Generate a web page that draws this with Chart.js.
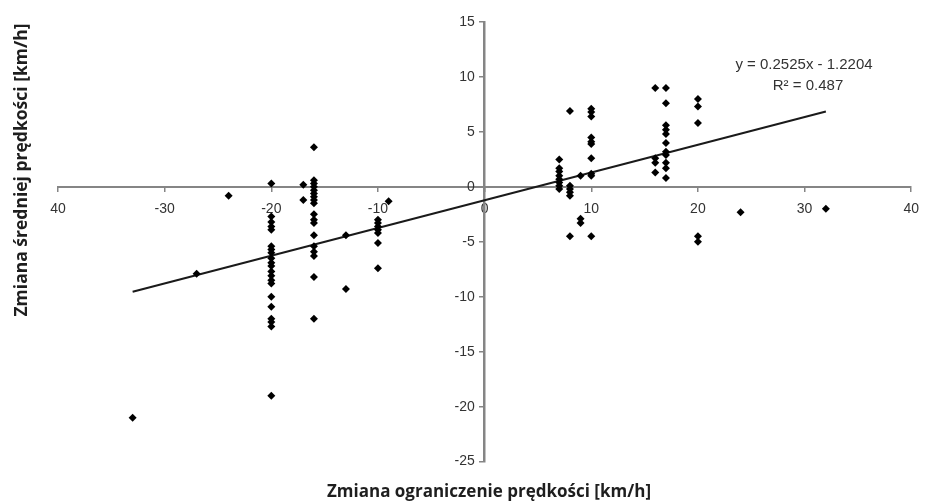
<!DOCTYPE html>
<html>
<head>
<meta charset="utf-8">
<script src="https://cdn.jsdelivr.net/npm/chart.js@4/dist/chart.umd.min.js"></script>
<style>
  html, body { margin: 0; padding: 0; background: #fff; }
  #wrap { width: 929px; height: 503px; }
</style>
</head>
<body>
<div id="wrap"><canvas id="speedChart" width="929" height="503"></canvas></div>
<script>
// ---- data ----
// change of speed limit (x) and the changes of mean speed measured for it (y)
const limitChanges = [-33, -27, -24, -20, -17, -16, -13, -10, -9, 7, 8, 9, 10, 16, 17, 20, 24, 32];
const speedChanges = [
    [-21.0],
    [-7.9],
    [-0.8],
    [0.3, -2.7, -3.2, -3.6, -3.9, -5.4, -5.7, -6.0, -6.5, -6.9, -7.2, -7.7, -8.1, -8.5, -8.8, -10.0, -10.9, -12.0, -12.3, -12.7, -19.0],
    [0.2, -1.2],
    [3.6, 0.6, 0.3, 0.0, -0.3, -0.6, -0.9, -1.2, -1.5, -2.5, -3.0, -3.3, -4.4, -5.4, -5.9, -6.3, -8.2, -12.0],
    [-4.4, -9.3],
    [-3.0, -3.3, -3.6, -3.9, -4.2, -5.1, -7.4],
    [-1.3],
    [2.5, 1.7, 1.4, 1.0, 0.7, 0.4, 0.1, -0.2],
    [6.9, 0.1, -0.2, -0.5, -0.8, -4.5],
    [1.0, -2.9, -3.3],
    [7.1, 6.8, 6.4, 4.5, 4.1, 3.9, 2.6, 1.2, 1.0, -4.5],
    [9.0, 2.6, 2.2, 1.3],
    [9.0, 7.6, 5.6, 5.2, 4.8, 4.0, 3.2, 2.9, 2.2, 1.7, 0.8],
    [8.0, 7.3, 5.8, -4.5, -5.0],
    [-2.3],
    [-2.0]
];

// linear trend line ends
const trendX = [-33, 32];
const trendY = [-9.55, 6.86];
const trendLabel = ['y = 0.2525x - 1.2204', 'R\u00B2 = 0.487'];

// axis ticks
const xTickValues = [-40, -30, -20, -10, 0, 10, 20, 30, 40];
const xTickLabels = ['40', '-30', '-20', '-10', '0', '10', '20', '30', '40'];
const yTickValues = [-25, -20, -15, -10, -5, 0, 5, 10, 15];
const yTickLabels = ['-25', '-20', '-15', '-10', '-5', '0', '5', '10', '15'];

const xTitle = 'Zmiana ograniczenie prędkości [km/h]';
const yTitle = 'Zmiana średniej prędkości [km/h]';

// build the point list for the scatter dataset
const points = [];
limitChanges.forEach((x, i) => {
    speedChanges[i].forEach(y => points.push({ x: x, y: y }));
});
const trendPoints = trendX.map((x, i) => ({ x: x, y: trendY[i] }));

const axisGray = '#858585';
const tickFont = { family: '"Liberation Sans", Arial, sans-serif', size: 14 };

// y axis title and trend equation are drawn as canvas text
const extraText = {
    id: 'extraText',
    afterDraw(chart) {
        const c = chart.ctx;
        c.save();
        c.fillStyle = '#1e1e1e';
        c.font = 'bold 17.5px "Open Sans", sans-serif';
        c.textAlign = 'center';
        c.textBaseline = 'middle';
        c.translate(22, 170);
        c.rotate(-Math.PI / 2);
        c.fillText(yTitle, 0, 0);
        c.restore();

        c.save();
        c.fillStyle = '#333';
        c.font = '15px "Liberation Sans", Arial, sans-serif';
        c.textAlign = 'center';
        c.textBaseline = 'middle';
        c.fillText(trendLabel[0], 804, 65);
        c.fillText(trendLabel[1], 808, 86);
        c.restore();
    }
};

new Chart(document.getElementById('speedChart'), {
    type: 'scatter',
    data: {
        datasets: [
            {
                label: 'pomiary',
                data: points,
                pointStyle: 'rectRot',
                pointRadius: 4,
                pointHoverRadius: 4,
                backgroundColor: '#000',
                borderColor: '#000',
                borderWidth: 0
            },
            {
                label: 'trend',
                type: 'line',
                data: trendPoints,
                showLine: true,
                borderColor: '#1a1a1a',
                borderWidth: 2,
                pointRadius: 0,
                fill: false
            }
        ]
    },
    options: {
        responsive: false,
        animation: false,
        devicePixelRatio: 1,
        layout: { padding: { left: 58, right: 9, top: 22, bottom: 0 } },
        plugins: {
            legend: { display: false },
            tooltip: { enabled: false },
            title: {
                display: true,
                text: xTitle,
                position: 'bottom',
                color: '#1e1e1e',
                font: { family: '"Open Sans", sans-serif', size: 17, weight: 'bold' },
                padding: { top: 20, bottom: 1 }
            }
        },
        scales: {
            x: {
                type: 'linear',
                position: { y: 0 },
                min: -40,
                max: 40,
                afterBuildTicks: axis => { axis.ticks = xTickValues.map(v => ({ value: v })); },
                ticks: {
                    color: '#333',
                    font: tickFont,
                    padding: 10,
                    maxRotation: 0,
                    callback: (v) => xTickLabels[xTickValues.indexOf(v)]
                },
                grid: { drawOnChartArea: false, tickLength: 4, color: axisGray, lineWidth: 1.5 },
                border: { color: axisGray, width: 2 }
            },
            y: {
                type: 'linear',
                position: { x: 0 },
                min: -25,
                max: 15,
                afterBuildTicks: axis => { axis.ticks = yTickValues.map(v => ({ value: v })); },
                ticks: {
                    color: '#333',
                    font: tickFont,
                    // a centred axis ignores ticks.padding, so keep the gap with spaces
                    callback: (v) => yTickLabels[yTickValues.indexOf(v)] + '\u2002\u2009'
                },
                grid: { drawOnChartArea: false, tickLength: 4, color: axisGray, lineWidth: 1.5 },
                border: { color: axisGray, width: 2.5 }
            }
        }
    },
    plugins: [extraText]
});
</script>
</body>
</html>
